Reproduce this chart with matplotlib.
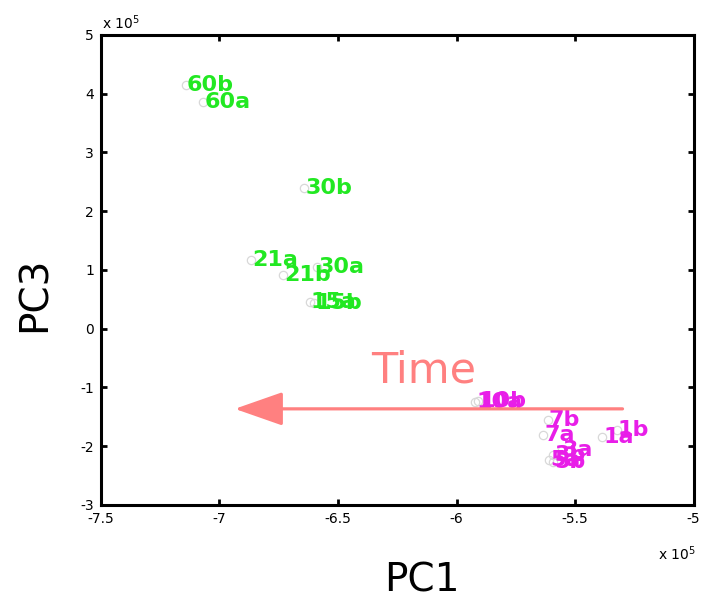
import matplotlib
matplotlib.use('Agg')
import matplotlib.pyplot as plt

plt.rcParams['font.family'] = ['DejaVu Sans']

# PCA scores (x 10^5)
green_labels = ['60b', '60a', '30b', '21a', '21b', '30a', '15a', '15b']
green_pc1 = [-7.142, -7.070, -6.644, -6.868, -6.733, -6.589, -6.620, -6.600]
green_pc3 = [4.149, 3.860, 2.396, 1.170, 0.915, 1.051, 0.455, 0.440]

magenta_labels = ['10a', '10b', '7b', '7a', '1a', '1b', '3a', '3b', '5a', '5b']
magenta_pc1 = [-5.923, -5.910, -5.616, -5.637, -5.388, -5.325, -5.557, -5.594, -5.611, -5.594]
magenta_pc3 = [-1.247, -1.240, -1.553, -1.809, -1.843, -1.723, -2.064, -2.149, -2.234, -2.268]

arrow_tail = (-5.30, -1.366)
arrow_tip = (-6.935, -1.366)
time_pos = (-6.14, -0.92)

fig = plt.figure(figsize=(7.1, 6.01), dpi=100)
ax = fig.add_axes([0.142, 0.160, 0.835, 0.782])

for xs, ys, labs, col in [(green_pc1, green_pc3, green_labels, '#22e822'),
                          (magenta_pc1, magenta_pc3, magenta_labels, '#e81ee8')]:
    ax.plot(xs, ys, 'o', ms=6, mfc='none', mec='#d8d8d8', mew=0.9, zorder=1)
    for x, y, s in zip(xs, ys, labs):
        ax.annotate(s, (x, y), xytext=(1, 0), textcoords='offset points',
                    ha='left', va='center', fontsize=16, fontweight='bold',
                    color=col, zorder=2)

ax.annotate('', xy=arrow_tip, xytext=arrow_tail,
            arrowprops=dict(arrowstyle='-|>,head_length=3.0,head_width=1.05',
                            color='#ff8080', lw=2.3, shrinkA=0, shrinkB=0,
                            mutation_scale=10), zorder=3)
ax.text(*time_pos, 'Time', color='#ff8080', fontsize=31, ha='center', va='baseline')

ax.set_xlim(-7.5, -5)
ax.set_ylim(-3, 5)
ax.set_xticks([-7.5, -7, -6.5, -6, -5.5, -5])
ax.set_xticklabels(['-7.5', '-7', '-6.5', '-6', '-5.5', '-5'])
ax.set_yticks(range(-3, 6))
ax.set_yticklabels([str(v) for v in range(-3, 6)])
ax.tick_params(direction='in', length=4, width=2, top=True, right=True,
               labelsize=10, pad=5)
for sp in ax.spines.values():
    sp.set_linewidth(2.2)

ax.set_xlabel('PC1', fontsize=28)
ax.xaxis.label.set_va('center')
ax.xaxis.set_label_coords(0.541, -0.162)
ax.set_ylabel('PC3', fontsize=28)
ax.yaxis.label.set_va('center')
ax.yaxis.set_label_coords(-0.111, 0.447)

ax.text(0.002, 1.012, r'x 10$^{5}$', transform=ax.transAxes, fontsize=10,
        ha='left', va='baseline')
ax.text(1.004, -0.117, r'x 10$^{5}$', transform=ax.transAxes, fontsize=10,
        ha='right', va='baseline')

fig.savefig('out.png', dpi=100)
